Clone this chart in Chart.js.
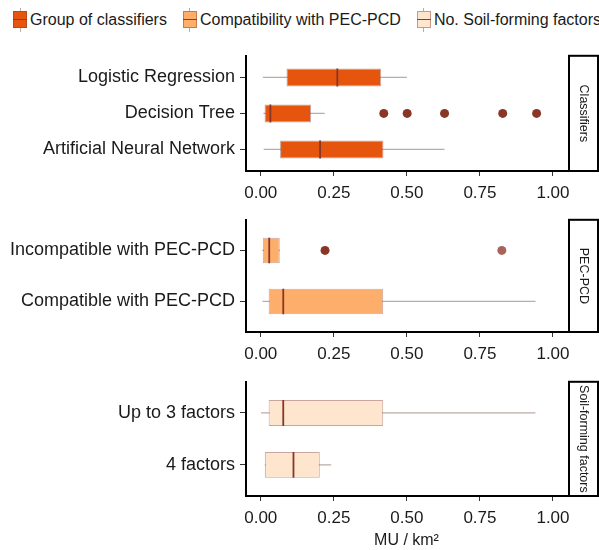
<!DOCTYPE html>
<html>
<head>
<meta charset="utf-8">
<script src="https://cdn.jsdelivr.net/npm/chart.js@4.4.1/dist/chart.umd.min.js"></script>
<style>
    html, body { margin: 0; padding: 0; background: #fff; }
    #wrap { position: relative; width: 599px; height: 550px; overflow: hidden; font-family: Arial, "Liberation Sans", sans-serif; }
    canvas { position: absolute; left: 0; }
    #legend { position: absolute; top: 8px; left: 13px; display: flex; align-items: center; font-size: 16px; color: #1a1a1a; white-space: nowrap; }
    .item { display: flex; align-items: center; margin-right: 16px; }
    .key { position: relative; width: 14px; height: 24px; margin-right: 3px; }
    .key .wh { position: absolute; left: 6.5px; top: 0; width: 1px; height: 24px; background: #bfaaa4; }
    .key .bx { position: absolute; left: 0; top: 3px; width: 14px; height: 17px; box-sizing: border-box; border: 1px solid rgba(139,58,42,0.45); }
    .key .md { position: absolute; left: 0; top: 11px; width: 14px; height: 1px; background: #8c3b2b; }
</style>
</head>
<body>
<div id="wrap">
    <div id="legend"></div>
    <canvas id="p1" width="599" height="165" style="top:40px"></canvas>
    <canvas id="p2" width="599" height="162" style="top:204px"></canvas>
    <canvas id="p3" width="599" height="184" style="top:366px"></canvas>
</div>
<script>
// x axis ticks
const xTicks = [0, 0.25, 0.5, 0.75, 1];

// Group of classifiers
const classLabels = ['Logistic Regression', 'Decision Tree', 'Artificial Neural Network'];
const classLow = [0.007, 0.009, 0.010];
const classQ1 = [0.088, 0.013, 0.066];
const classMedian = [0.262, 0.033, 0.203];
const classQ3 = [0.412, 0.172, 0.420];
const classHigh = [0.500, 0.219, 0.629];
const classOutliers = [[], [0.421, 0.501, 0.629, 0.828, 0.944], []];

// Compatibility with PEC-PCD
const pecLabels = ['Incompatible with PEC-PCD', 'Compatible with PEC-PCD'];
const pecLow = [0.005, 0.006];
const pecQ1 = [0.007, 0.027];
const pecMedian = [0.029, 0.077];
const pecQ3 = [0.065, 0.419];
const pecHigh = [0.065, 0.940];
const pecOutliers = [[0.220, 0.825], []];

// No. soil-forming factors
const soilLabels = ['Up to 3 factors', '4 factors'];
const soilLow = [0.001, 0.014];
const soilQ1 = [0.027, 0.014];
const soilMedian = [0.077, 0.112];
const soilQ3 = [0.419, 0.202];
const soilHigh = [0.940, 0.241];
const soilOutliers = [[], []];

const legendNames = ['Group of classifiers', 'Compatibility with PEC-PCD', 'No. Soil-forming factors'];
const fills = ['#E6550D', '#FDAE6B', '#FEE6CE'];

const txt = '#1a1a1a';
const whiskerColor = '#bdaba6';
const medianColor = '#8a3626';
const boxBorder = 'rgba(139,58,42,0.45)';
const gap = { x: null, y: null };

// legend (html)
const legend = document.getElementById('legend');
legendNames.forEach((name, i) => {
    const item = document.createElement('div');
    item.className = 'item';
    item.innerHTML = '<div class="key"><div class="wh"></div><div class="bx" style="background:' + fills[i] +
        '"></div><div class="md"></div></div><span>' + name + '</span>';
    legend.appendChild(item);
});

// right-hand facet strip
const stripPlugin = {
    id: 'strip',
    afterDraw(chart, args, opts) {
        const { ctx, chartArea: a } = chart;
        ctx.save();
        ctx.fillStyle = '#fff';
        ctx.strokeStyle = '#000';
        ctx.lineWidth = 2;
        ctx.fillRect(a.right + 2, a.top, 29, a.bottom - a.top);
        ctx.strokeRect(a.right + 2, a.top, 29, a.bottom - a.top);
        ctx.translate(a.right + 16.5, (a.top + a.bottom) / 2);
        ctx.rotate(Math.PI / 2);
        ctx.fillStyle = txt;
        ctx.font = '12.5px Arial, "Liberation Sans", sans-serif';
        ctx.textAlign = 'center';
        ctx.textBaseline = 'middle';
        ctx.fillText(opts.text, 0, 0);
        ctx.restore();
    }
};

function makePanel(id, labels, low, q1, med, q3, high, outliers, fill, strip, outlierColors, title) {
    const n = labels.length;
    const whiskers = [], medians = [], points = [];
    for (let i = 0; i < n; i++) {
        const r = i + 1;
        whiskers.push({ x: low[i], y: r }, { x: high[i], y: r }, gap);
        medians.push({ x: med[i], y: r - 0.25 }, { x: med[i], y: r + 0.25 }, gap);
        outliers[i].forEach(v => points.push({ x: v, y: r }));
    }

    new Chart(document.getElementById(id), {
        type: 'bar',
        data: {
            datasets: [
                {
                    type: 'line',
                    data: whiskers,
                    borderColor: whiskerColor,
                    borderWidth: 1.2,
                    pointRadius: 0,
                    spanGaps: false,
                    order: 3
                },
                {
                    type: 'bar',
                    indexAxis: 'y',
                    data: labels.map((_, i) => ({ x: [q1[i], q3[i]], y: i + 1 })),
                    backgroundColor: fill,
                    borderColor: boxBorder,
                    borderWidth: 1,
                    borderSkipped: false,
                    barPercentage: 0.5,
                    categoryPercentage: 1,
                    order: 2
                },
                {
                    type: 'line',
                    data: medians,
                    borderColor: medianColor,
                    borderWidth: 1.8,
                    pointRadius: 0,
                    spanGaps: false,
                    order: 1
                },
                {
                    type: 'scatter',
                    data: points,
                    pointRadius: 4.5,
                    pointBorderWidth: 0,
                    pointBackgroundColor: outlierColors,
                    order: 0
                }
            ]
        },
        options: {
            responsive: false,
            animation: false,
            events: [],
            layout: { padding: { top: 10, right: 32, left: 0, bottom: 0 } },
            plugins: {
                legend: { display: false },
                tooltip: { enabled: false },
                strip: { text: strip }
            },
            scales: {
                x: {
                    type: 'linear',
                    offset: false,
                    min: -0.0505,
                    max: 1.048,
                    afterBuildTicks: s => { s.ticks = xTicks.map(v => ({ value: v })); },
                    afterFit: s => { s.height = title ? 54 : 34; },
                    ticks: {
                        callback: v => Number(v).toFixed(2),
                        color: txt,
                        font: { size: 17, family: 'Arial' },
                        padding: 7,
                        maxRotation: 0
                    },
                    grid: { offset: false, drawOnChartArea: false, drawTicks: true, tickLength: 5, color: '#333', lineWidth: 1 },
                    border: { display: true, color: '#000', width: 2 },
                    title: {
                        display: !!title,
                        text: title || '',
                        color: txt,
                        font: { size: 16, family: 'Arial' },
                        padding: { top: 0, bottom: 0 }
                    }
                },
                y: {
                    type: 'linear',
                    offset: false,
                    min: 0.4,
                    max: n + 0.6,
                    reverse: true,
                    afterBuildTicks: s => { s.ticks = labels.map((_, i) => ({ value: i + 1 })); },
                    afterFit: s => { s.width = 246; },
                    ticks: {
                        callback: v => labels[Math.round(v) - 1],
                        color: txt,
                        font: { size: 18, family: 'Arial' },
                        padding: 5
                    },
                    grid: { offset: false, drawOnChartArea: false, drawTicks: true, tickLength: 6, color: '#333', lineWidth: 1 },
                    border: { display: true, color: '#000', width: 2 }
                }
            }
        },
        plugins: [stripPlugin]
    });
}

makePanel('p1', classLabels, classLow, classQ1, classMedian, classQ3, classHigh, classOutliers,
    fills[0], 'Classifiers', '#8a3626');
makePanel('p2', pecLabels, pecLow, pecQ1, pecMedian, pecQ3, pecHigh, pecOutliers,
    fills[1], 'PEC-PCD', ['#8a3626', '#a8645a']);
makePanel('p3', soilLabels, soilLow, soilQ1, soilMedian, soilQ3, soilHigh, soilOutliers,
    fills[2], 'Soil-forming factors', '#8a3626', 'MU / km²');
</script>
</body>
</html>
